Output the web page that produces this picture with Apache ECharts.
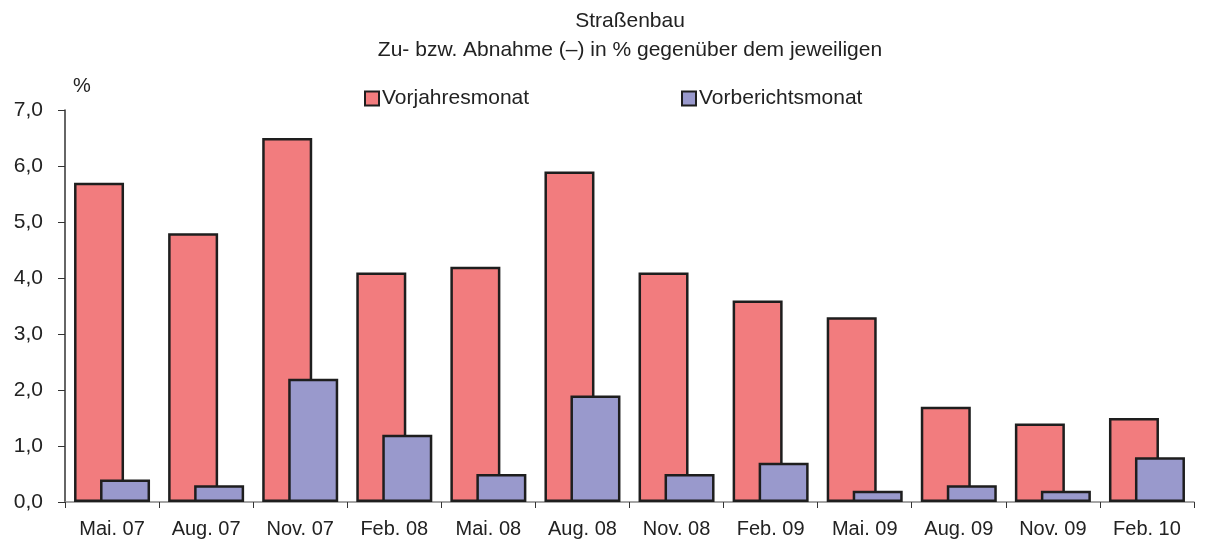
<!DOCTYPE html>
<html>
<head>
<meta charset="utf-8">
<script src="https://cdn.jsdelivr.net/npm/echarts@6/dist/echarts.min.js"></script>
<style>
html, body { margin: 0; padding: 0; background: #fff; }
#chart { width: 1208px; height: 549px; }
</style>
</head>
<body>
<div id="chart"></div>
<script>
var months = ['Mai. 07', 'Aug. 07', 'Nov. 07', 'Feb. 08', 'Mai. 08', 'Aug. 08', 'Nov. 08', 'Feb. 09', 'Mai. 09', 'Aug. 09', 'Nov. 09', 'Feb. 10'];
var vorjahr = [5.7, 4.8, 6.5, 4.1, 4.2, 5.9, 4.1, 3.6, 3.3, 1.7, 1.4, 1.5];
var vorbericht = [0.4, 0.3, 2.2, 1.2, 0.5, 1.9, 0.5, 0.7, 0.2, 0.3, 0.2, 0.8];

var chart = echarts.init(document.getElementById('chart'));
var font = 'Liberation Sans, Arial, sans-serif';

var option = {
    animation: false,
    textStyle: { fontFamily: font },
    title: {
        text: 'Straßenbau\nZu- bzw. Abnahme (–) in % gegenüber dem jeweiligen',
        left: 625,
        top: 2,
        textAlign: 'center',
        textStyle: { fontSize: 21, fontWeight: 'normal', color: '#222', lineHeight: 29 }
    },
    legend: [
        {
            data: ['Vorjahresmonat'],
            left: 359, top: 83,
            icon: 'rect',
            itemWidth: 14, itemHeight: 14, itemGap: 0,
            textStyle: { fontSize: 21, color: '#222', padding: [0, 0, 0, -2] }
        },
        {
            data: ['Vorberichtsmonat'],
            left: 676, top: 83,
            icon: 'rect',
            itemWidth: 14, itemHeight: 14, itemGap: 0,
            textStyle: { fontSize: 21, color: '#222', padding: [0, 0, 0, -2] }
        }
    ],
    grid: { left: 65, right: 14, top: 110, bottom: 47 },
    xAxis: {
        type: 'category',
        data: months,
        axisLine: { lineStyle: { color: '#888', width: 1.5 } },
        axisTick: { show: true, length: 6, lineStyle: { color: '#333' } },
        axisLabel: { interval: 0, fontSize: 20, color: '#222', margin: 17 }
    },
    yAxis: {
        type: 'value',
        min: 0, max: 7, interval: 1,
        name: '%',
        nameLocation: 'end',
        nameGap: 14,
        nameTextStyle: { fontSize: 20, color: '#222', align: 'left', padding: [0, 0, 0, 8] },
        splitLine: { show: false },
        axisLine: { show: true, lineStyle: { color: '#333', width: 1.5 } },
        axisTick: { show: true, length: 7, lineStyle: { color: '#333' } },
        axisLabel: {
            fontSize: 21, color: '#222', margin: 22,
            formatter: function (v) { return v.toFixed(1).replace('.', ','); }
        }
    },
    series: [
        {
            name: 'Vorjahresmonat',
            type: 'bar',
            data: vorjahr,
            barWidth: 50,
            barGap: '-48%',
            itemStyle: { color: '#f27c7e', borderColor: '#1e1e1e', borderWidth: 2.5 }
        },
        {
            name: 'Vorberichtsmonat',
            type: 'bar',
            data: vorbericht,
            barWidth: 50,
            itemStyle: { color: '#9999cc', borderColor: '#1e1e1e', borderWidth: 2.5 }
        }
    ]
};
chart.setOption(option);
</script>
</body>
</html>
